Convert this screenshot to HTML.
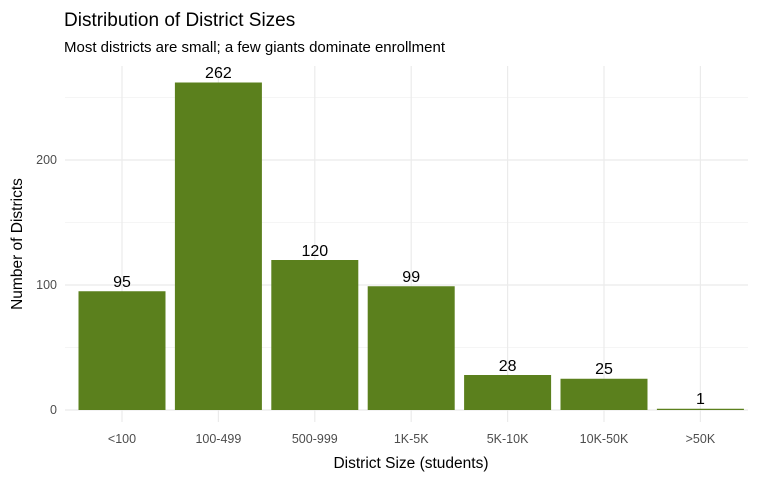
<!DOCTYPE html>
<html><head><meta charset="utf-8"><style>
html,body{margin:0;padding:0;background:#fff}
svg{display:block;font-family:"Liberation Sans",sans-serif}
</style></head><body>
<svg width="768" height="480" viewBox="0 0 768 480">
<rect width="768" height="480" fill="#fff"/>
<text x="64" y="26" font-size="19" fill="#000">Distribution of District Sizes</text>
<text x="64" y="52" font-size="15" fill="#000">Most districts are small; a few giants dominate enrollment</text>
<g stroke="#ebebeb" stroke-width="0.6">
<line x1="65" x2="748" y1="347.5" y2="347.5"/>
<line x1="65" x2="748" y1="222.5" y2="222.5"/>
<line x1="65" x2="748" y1="97.5" y2="97.5"/>
</g>
<g stroke="#ebebeb" stroke-width="1.2">
<line x1="65" x2="748" y1="410" y2="410"/>
<line x1="65" x2="748" y1="285" y2="285"/>
<line x1="65" x2="748" y1="160" y2="160"/>
<line x1="122" x2="122" y1="66" y2="422"/>
<line x1="218.4" x2="218.4" y1="66" y2="422"/>
<line x1="314.8" x2="314.8" y1="66" y2="422"/>
<line x1="411.2" x2="411.2" y1="66" y2="422"/>
<line x1="507.6" x2="507.6" y1="66" y2="422"/>
<line x1="604" x2="604" y1="66" y2="422"/>
<line x1="700.4" x2="700.4" y1="66" y2="422"/>
</g>
<g fill="#5b801d">
<rect x="78.5" y="291.25" width="87" height="118.75"/>
<rect x="174.9" y="82.5" width="87" height="327.5"/>
<rect x="271.3" y="260" width="87" height="150"/>
<rect x="367.7" y="286.25" width="87" height="123.75"/>
<rect x="464.1" y="375" width="87" height="35"/>
<rect x="560.5" y="378.75" width="87" height="31.25"/>
<rect x="656.9" y="408.75" width="87" height="1.25"/>
</g>
<g font-size="16" fill="#000" text-anchor="middle">
<text x="122" y="287">95</text>
<text x="218.4" y="78">262</text>
<text x="314.8" y="256">120</text>
<text x="411.2" y="282">99</text>
<text x="507.6" y="371">28</text>
<text x="604" y="374">25</text>
<text x="700.4" y="404">1</text>
</g>
<g font-size="12.5" fill="#4d4d4d" text-anchor="end">
<text x="57" y="414">0</text>
<text x="57" y="289">100</text>
<text x="57" y="164">200</text>
</g>
<g font-size="12.5" fill="#4d4d4d" text-anchor="middle">
<text x="122" y="443">&lt;100</text>
<text x="218.4" y="443">100-499</text>
<text x="314.8" y="443">500-999</text>
<text x="411.2" y="443">1K-5K</text>
<text x="507.6" y="443">5K-10K</text>
<text x="604" y="443">10K-50K</text>
<text x="700.4" y="443">&gt;50K</text>
</g>
<text x="411" y="468" font-size="15.5" text-anchor="middle" fill="#000">District Size (students)</text>
<text transform="translate(22,244) rotate(-90)" font-size="15.5" text-anchor="middle" fill="#000">Number of Districts</text>
</svg>
</body></html>
